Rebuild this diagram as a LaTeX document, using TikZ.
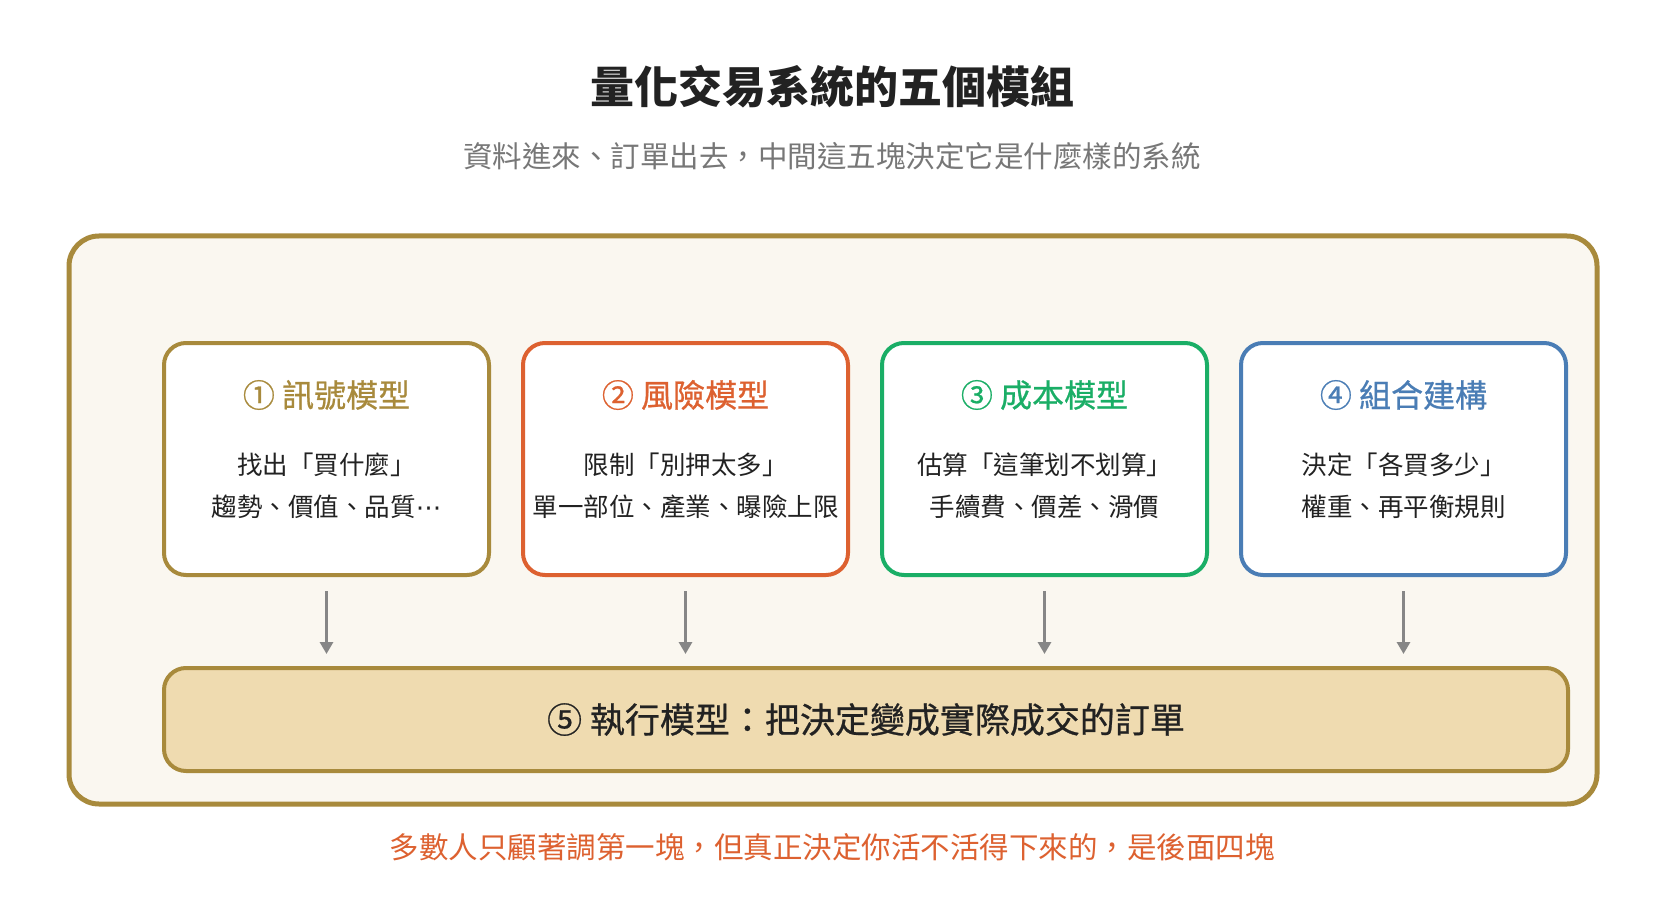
\documentclass[tikz,border=0pt]{standalone}
\usepackage{fontspec}
\setmainfont{Noto Sans CJK TC}
\newfontfamily\medfont{Noto Sans CJK TC}[FakeBold=0.7]
\newfontfamily\dotsfont{DejaVu Sans}
\usetikzlibrary{arrows.meta}

\definecolor{gold}{HTML}{A88A3C}
\definecolor{riskred}{HTML}{DD6130}
\definecolor{costgreen}{HTML}{1AAE66}
\definecolor{portblue}{HTML}{4A7DB5}
\definecolor{cream}{HTML}{FAF7F0}
\definecolor{wheat}{HTML}{EFDBB0}
\definecolor{subgray}{HTML}{777777}
\definecolor{ink}{HTML}{222222}

\begin{document}
\begin{tikzpicture}[x=1pt,y=-1pt,>={Triangle[length=12pt,width=13pt]},
  module/.style={draw=#1, line width=4pt, fill=white, rounded corners=22pt,
    minimum width=325pt, minimum height=232pt, inner sep=0pt},
  modtitle/.style={text=#1, font=\medfont\fontsize{32}{38}\selectfont},
  modtext/.style={text=ink, font=\fontsize{25.5}{30}\selectfont},
  flow/.style={->, draw=gray!95, line width=3pt, shorten <=14pt, shorten >=12pt}]

  % Page
  \useasboundingbox[fill=white] (0,0) rectangle (1665,901);

  % Heading
  \node[text=ink, font=\fontsize{44}{52}\selectfont\bfseries] (title) at (832,87)
    {量化交易系統的五個模組};
  \node[text=subgray, font=\fontsize{29.5}{35}\selectfont] (subtitle) at (832,156)
    {資料進來、訂單出去，中間這五塊決定它是什麼樣的系統};

  % Outer frame
  \draw[gold, fill=cream, line width=5pt, rounded corners=30pt]
    (69,236) rectangle (1597,804);

  %%%%%%%%%%%%%%%%%%%%%%%%%%%%%%%%%%%%%%%%%%
  % Four modules
  \node[module=gold] (sig) at (326.5,459) {};
  \node[modtitle=gold] (sigtitle) at (326.5,395) {① 訊號模型};
  \node[modtext] (siga) at (326.5,465) {找出「買什麼」};
  \node[modtext] (sigb) at (326.5,507) {趨勢、價值、品質{\dotsfont ⋯}};

  \node[module=riskred] (risk) at (685.5,459) {};
  \node[modtitle=riskred] (risktitle) at (685.5,395) {② 風險模型};
  \node[modtext] (riska) at (685.5,465) {限制「別押太多」};
  \node[modtext] (riskb) at (685.5,507) {單一部位、產業、曝險上限};

  \node[module=costgreen] (cost) at (1044.5,459) {};
  \node[modtitle=costgreen] (costtitle) at (1044.5,395) {③ 成本模型};
  \node[modtext] (costa) at (1044.5,465) {估算「這筆划不划算」};
  \node[modtext] (costb) at (1044.5,507) {手續費、價差、滑價};

  \node[module=portblue] (port) at (1403.5,459) {};
  \node[modtitle=portblue] (porttitle) at (1403.5,395) {④ 組合建構};
  \node[modtext] (porta) at (1403.5,465) {決定「各買多少」};
  \node[modtext] (portb) at (1403.5,507) {權重、再平衡規則};

  %%%%%%%%%%%%%%%%%%%%%%%%%%%%%%%%%%%%%%%%%%
  % Execution
  \node[draw=gold, fill=wheat, line width=4pt, rounded corners=22pt,
    minimum width=1404pt, minimum height=103pt, text=ink,
    font=\medfont\fontsize{35}{42}\selectfont] (exec) at (866,719.5)
    {⑤ 執行模型：把決定變成實際成交的訂單};

  % Arrows into execution
  \draw[flow] (sig.south) -- (sig.south |- exec.north);
  \draw[flow] (risk.south) -- (risk.south |- exec.north);
  \draw[flow] (cost.south) -- (cost.south |- exec.north);
  \draw[flow] (port.south) -- (port.south |- exec.north);

  % Footnote
  \node[text=riskred, font=\fontsize{29.5}{35}\selectfont] (note) at (832,847)
    {多數人只顧著調第一塊，但真正決定你活不活得下來的，是後面四塊};

\end{tikzpicture}
\end{document}
